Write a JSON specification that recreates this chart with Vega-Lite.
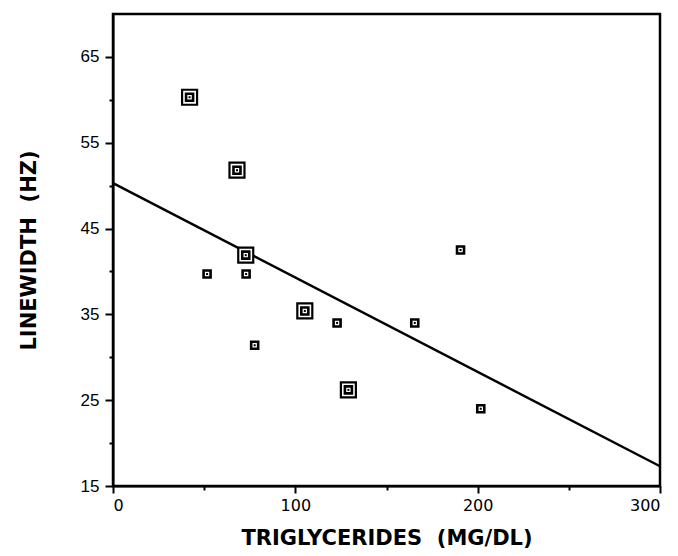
{
  "$schema": "https://vega.github.io/schema/vega-lite/v6.json",
  "width": 547,
  "height": 472,
  "autosize": "none",
  "padding": {"left": 113, "top": 14, "right": 18, "bottom": 70},
  "background": "white",
  "config": {
    "view": {"stroke": "black", "strokeWidth": 2.5},
    "axis": {
      "grid": false,
      "domainColor": "black",
      "domainWidth": 2,
      "tickColor": "black",
      "tickWidth": 2,
      "labelColor": "black",
      "titleColor": "black",
      "labelFont": "Liberation Sans",
      "titleFont": "DejaVu Sans",
      "titleFontWeight": "bold",
      "titleFontSize": 21
    }
  },
  "datasets": {
    "points": [
      {"tg": 42, "lw": 60.3, "kind": "large"},
      {"tg": 68, "lw": 51.8, "kind": "large"},
      {"tg": 72.8, "lw": 41.9, "kind": "large"},
      {"tg": 105.2, "lw": 35.4, "kind": "large"},
      {"tg": 129.1, "lw": 26.2, "kind": "large"},
      {"tg": 51.6, "lw": 39.7, "kind": "small"},
      {"tg": 73, "lw": 39.7, "kind": "small"},
      {"tg": 77.7, "lw": 31.4, "kind": "small"},
      {"tg": 122.9, "lw": 34.0, "kind": "small"},
      {"tg": 165.5, "lw": 34.0, "kind": "small"},
      {"tg": 190.6, "lw": 42.5, "kind": "small"},
      {"tg": 201.7, "lw": 24.0, "kind": "small"}
    ],
    "fit": [
      {"tg": 0, "lw": 50.3},
      {"tg": 300, "lw": 17.3}
    ]
  },
  "encoding": {
    "x": {
      "field": "tg",
      "type": "quantitative",
      "scale": {"domain": [0, 300], "nice": false, "zero": false},
      "axis": {
        "title": "TRIGLYCERIDES\u00a0\u00a0(MG/DL)",
        "values": [0, 50, 100, 150, 200, 250, 300],
        "labelExpr": "datum.value % 100 === 0 ? datum.label : ''",
        "labelFont": "DejaVu Sans",
        "labelFontSize": 16,
        "labelPadding": 4,
        "titlePadding": 14,
        "tickSize": {"condition": {"test": "datum.value % 100 === 0", "value": 7}, "value": 4}
      }
    },
    "y": {
      "field": "lw",
      "type": "quantitative",
      "scale": {"domain": [15, 70], "nice": false, "zero": false},
      "axis": {
        "title": "LINEWIDTH\u00a0\u00a0(HZ)",
        "values": [15, 20, 25, 30, 35, 40, 45, 50, 55, 60, 65],
        "labelExpr": "datum.value % 10 === 5 ? datum.label : ''",
        "labelFontSize": 17,
        "labelPadding": 6,
        "titlePadding": 41,
        "tickSize": {"condition": {"test": "datum.value % 10 === 5", "value": 8}, "value": 4}
      }
    }
  },
  "layer": [
    {
      "data": {"name": "fit"},
      "mark": {"type": "line", "color": "black", "strokeWidth": 2.5}
    },
    {
      "data": {"name": "points"},
      "transform": [{"filter": "datum.kind === 'large'"}],
      "mark": {"type": "square", "size": 225, "fill": "white", "stroke": "black", "strokeWidth": 2.2, "opacity": 1}
    },
    {
      "data": {"name": "points"},
      "mark": {"type": "square", "size": 49, "fill": "white", "stroke": "black", "strokeWidth": 2.6, "opacity": 1}
    },
    {
      "data": {"name": "points"},
      "mark": {"type": "square", "size": 4, "fill": "black", "stroke": null, "opacity": 1}
    }
  ]
}
